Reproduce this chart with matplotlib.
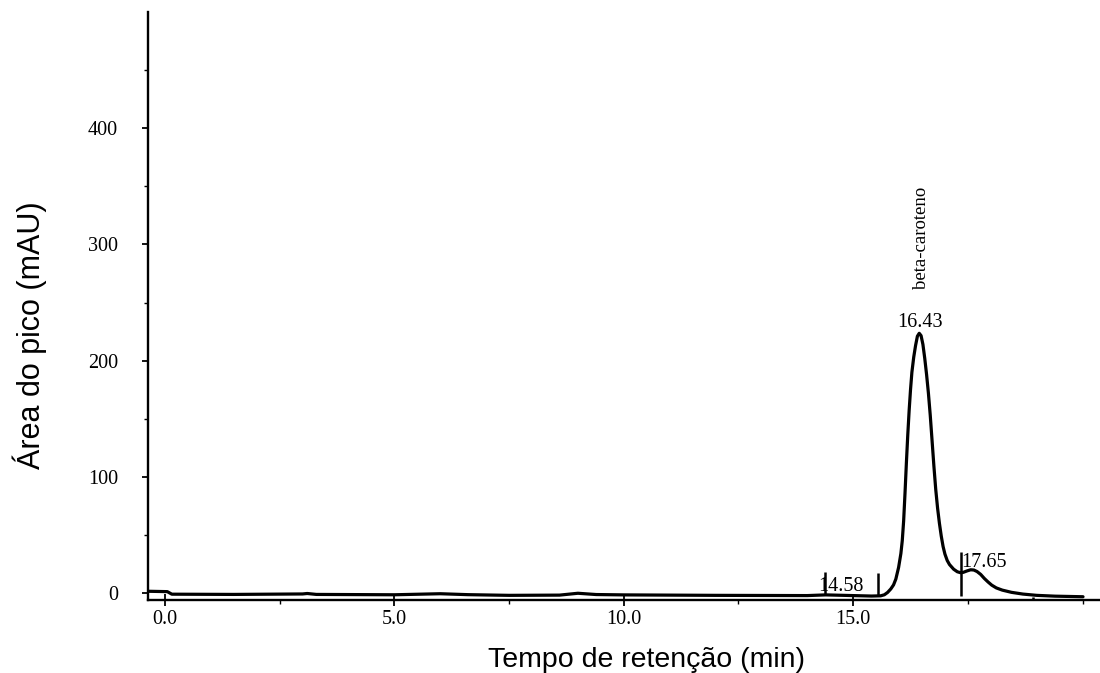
import matplotlib
matplotlib.use("Agg")
import matplotlib.pyplot as plt
from matplotlib.ticker import FixedLocator, FixedFormatter

# ---- data ----
time_min = [-0.35, 0.05, 0.15, 1.5, 3.0, 3.1, 3.3, 5.0, 6.0, 6.6, 7.5, 8.6, 9.0, 9.4,
            10.0, 12.0, 14.0, 14.4, 15.0, 15.4, 15.6,
            15.68, 15.75, 15.82, 15.88, 15.93, 15.99, 16.04, 16.07, 16.10, 16.13,
            16.16, 16.19, 16.22, 16.25, 16.28, 16.32, 16.36, 16.40, 16.44, 16.48,
            16.52, 16.56, 16.60, 16.64, 16.68, 16.72, 16.76, 16.80, 16.84, 16.88,
            16.92, 16.96, 17.00, 17.05, 17.10, 17.19, 17.27, 17.34, 17.40,
            17.48, 17.56, 17.63, 17.70, 17.78, 17.86, 17.94, 18.02, 18.12, 18.25,
            18.45, 18.70, 19.00, 19.40, 20.01]
signal_mau = [1.5, 1.2, -1.0, -1.2, -0.8, -0.4, -1.2, -1.5, -0.6, -1.4, -2.0, -1.8, -0.2, -1.3,
              -1.6, -2.0, -2.2, -1.6, -2.2, -2.6, -2.4,
              -1.5, 0.5, 3.5, 7.0, 12.0, 22.0, 34.0, 45.0, 62.0, 86.0,
              112.0, 136.0, 157.0, 175.0, 190.0, 203.0, 213.0, 221.0, 223.5, 221.5,
              214.0, 202.0, 188.0, 172.0, 153.0, 131.0, 109.0, 89.0, 73.0, 60.0,
              49.0, 40.0, 33.5, 28.0, 24.5, 20.5, 18.3, 17.5, 17.8,
              19.0, 20.0, 19.8, 18.5, 16.0, 12.5, 9.5, 6.8, 4.4, 2.5,
              0.6, -0.9, -2.0, -2.7, -3.2]

# integration markers (time, bottom, top)
marker_time = [14.39, 15.54, 17.35, 18.93]
marker_low = [-1.0, -2.6, -2.6, -6.0]
marker_high = [18.0, 17.0, 35.5, -3.0]

# peak labels
peak_labels = ["14.58", "16.43", "17.65"]
peak_label_x = [14.24, 16.46, 17.36]
peak_label_y = [1.7, 228.8, 22.6]
peak_label_ha = ["left", "center", "left"]
compound_name = "beta-caroteno"
compound_x = 16.49
compound_y = 262

x_major = [0, 5, 10, 15]
x_major_labels = ["0.0", "5.0", "10.0", "15.0"]
x_minor = [2.5, 7.5, 12.5, 17.5, 20.0]
y_major = [0, 100, 200, 300, 400]
y_major_labels = ["0", "100", "200", "300", "400"]
y_minor = [50, 150, 250, 350, 450]

serif = ["Liberation Serif", "DejaVu Serif"]
sans = ["Liberation Sans", "DejaVu Sans"]

fig = plt.figure(figsize=(11, 6.73), dpi=100)
ax = fig.add_axes([148 / 1100, 1 - 600 / 673, (1100 - 148) / 1100, (600 - 12) / 673])

ax.plot(time_min, signal_mau, color="black", lw=2.3, solid_joinstyle="round",
        solid_capstyle="round")
ax.vlines(marker_time, marker_low, marker_high, color="black", lw=1.8)

for lab, x, y, ha in zip(peak_labels, peak_label_x, peak_label_y, peak_label_ha):
    ax.text(x, y, lab, ha=ha, va="baseline", fontsize=14.5, family=serif)
ax.text(compound_x, compound_y, compound_name, rotation=90, ha="center", va="bottom",
        fontsize=13.5, family=serif)

ax.set_xlim(-0.37, 20.38)
ax.set_ylim(-6, 500)

for s in ["top", "right"]:
    ax.spines[s].set_visible(False)
for s in ["left", "bottom"]:
    ax.spines[s].set_linewidth(1.7)

ax.xaxis.set_major_locator(FixedLocator(x_major))
ax.xaxis.set_major_formatter(FixedFormatter(x_major_labels))
ax.xaxis.set_minor_locator(FixedLocator(x_minor))
ax.yaxis.set_major_locator(FixedLocator(y_major))
ax.yaxis.set_major_formatter(FixedFormatter(y_major_labels))
ax.yaxis.set_minor_locator(FixedLocator(y_minor))

ax.tick_params(axis="x", which="major", direction="inout", length=8, width=1.3, pad=3,
               labelsize=14.5)
ax.tick_params(axis="x", which="minor", direction="out", length=3, width=1.0)
ax.tick_params(axis="y", which="major", direction="out", length=4.5, width=1.3, pad=17,
               labelsize=14.5)
ax.tick_params(axis="y", which="minor", direction="out", length=3, width=1.0)
for lab in ax.get_xticklabels() + ax.get_yticklabels():
    lab.set_family(serif)

fig.text(647 / 1100, 1 - 660 / 673, "Tempo de retenção (min)", ha="center", va="center",
         fontsize=20.5, family=sans)
fig.text(30 / 1100, 1 - 335 / 673, "Área do pico (mAU)", ha="center", va="center",
         rotation=90, fontsize=22, family=sans)

fig.savefig("out.png", dpi=100)
